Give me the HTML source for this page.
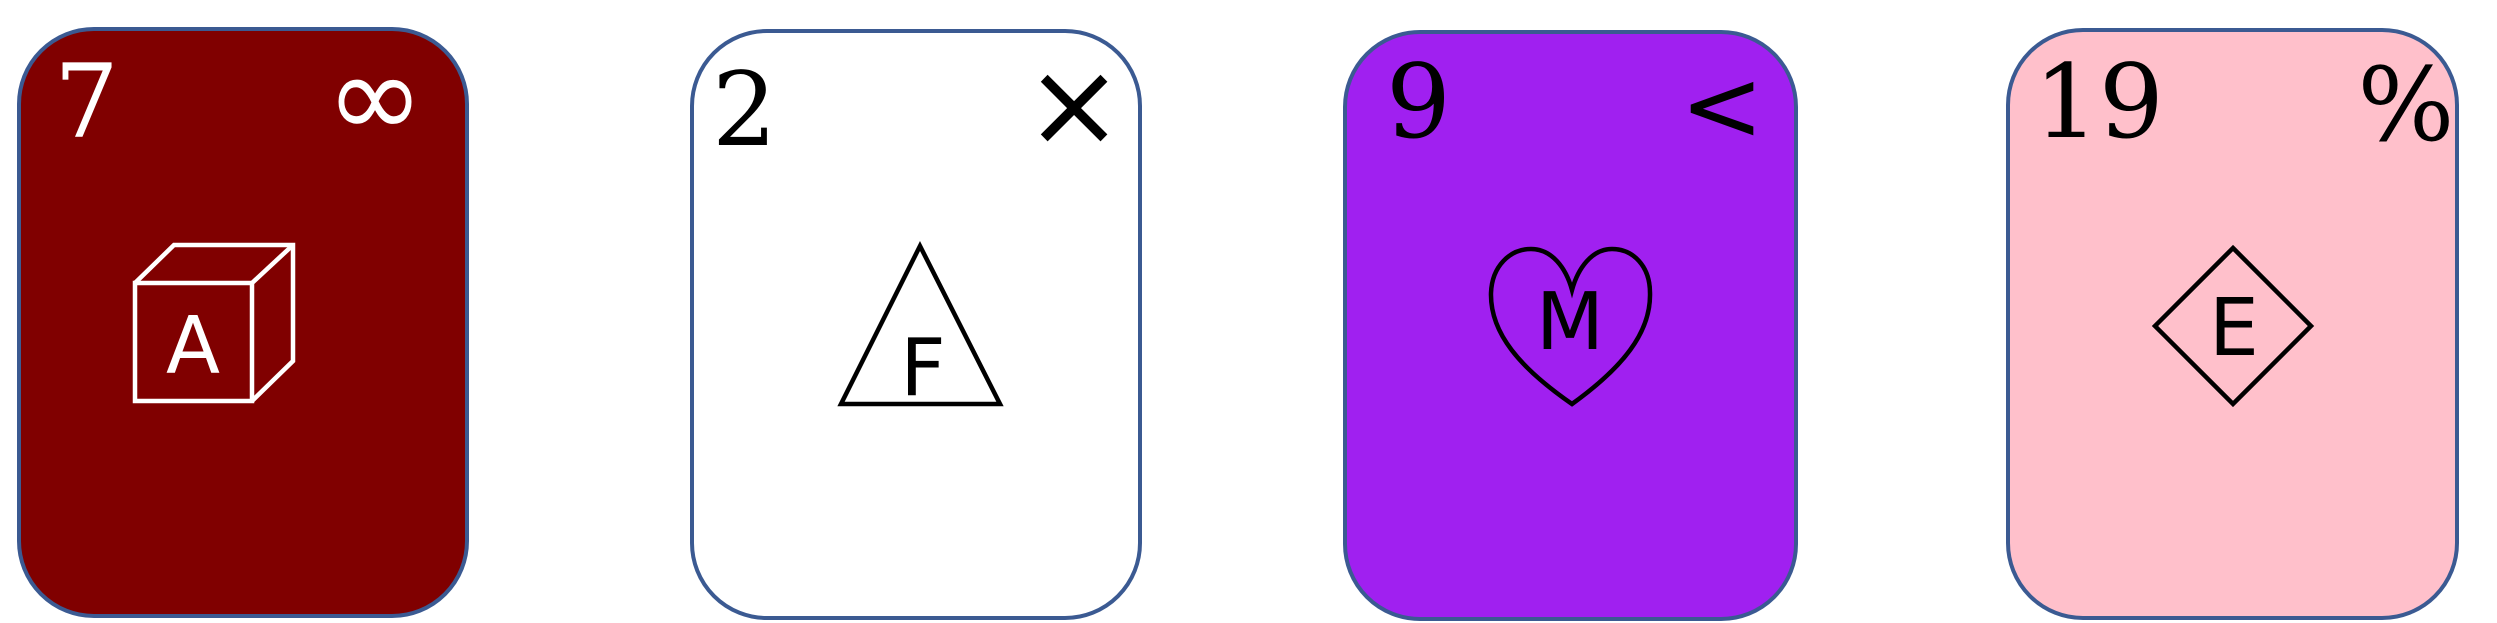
<!DOCTYPE html>
<html><head><meta charset="utf-8"><style>
html,body{margin:0;padding:0;background:#fff;width:2497px;height:623px;overflow:hidden}
svg{display:block}
.num{font-family:"DejaVu Serif","Liberation Serif",serif;font-size:102px}
.sym{font-family:"DejaVu Sans","Liberation Sans",sans-serif}
.lbl{font-family:"DejaVu Sans","Liberation Sans",sans-serif;font-size:79px}
</style></head><body>
<svg width="2497" height="623" viewBox="0 0 2497 623">
<g>
<rect x="19" y="29" width="448" height="587" rx="75" fill="#800000" stroke="#3b5a92" stroke-width="4"/>
<text x="54" y="137" class="num" fill="#fff">7</text>
<text x="375" y="137" class="sym" font-size="118" fill="#fff" text-anchor="middle">∞</text>
<g fill="none" stroke="#fff" stroke-width="4.5">
<rect x="135" y="283" width="117" height="118"/>
<polyline points="135,283 174,245 293,245 293,361 252,401"/>
<line x1="252" y1="283" x2="293" y2="245"/>
</g>
<text x="193" y="373" class="lbl" fill="#fff" text-anchor="middle">A</text>
</g>
<g>
<rect x="692" y="31" width="448" height="587" rx="75" fill="#fff" stroke="#3b5a92" stroke-width="4"/>
<text x="712" y="145" class="num" font-size="106" fill="#000">2</text>
<text x="1074" y="145" class="sym" font-size="118" fill="#000" text-anchor="middle">×</text>
<polygon points="920,246 1000,404 841,404" fill="none" stroke="#000" stroke-width="4.5"/>
<text x="923" y="395" class="lbl" fill="#000" text-anchor="middle">F</text>
</g>
<g>
<rect x="1345" y="32" width="451" height="587" rx="75" fill="#a020f0" stroke="#3b5a92" stroke-width="4"/>
<text x="1386" y="137" class="num" fill="#000">9</text>
<text x="1722" y="140" class="sym" font-size="100" fill="#000" text-anchor="middle">&lt;</text>
<path d="M1572,404 C1520,368 1490,333 1491,293 C1492,266 1510,249 1531,249 C1552,249 1566,268 1572,290 C1578,268 1592,249 1612,249 C1633,249 1650,266 1650,293 C1651,333 1622,368 1572,404 Z" fill="none" stroke="#000" stroke-width="4.5"/>
<text x="1570" y="349" class="lbl" fill="#000" text-anchor="middle">M</text>
</g>
<g>
<rect x="2008" y="30" width="449" height="588" rx="75" fill="#ffc0cb" stroke="#3b5a92" stroke-width="4"/>
<text x="2034" y="137" class="num" fill="#000">19</text>
<text x="2406" y="140" class="num" font-size="124" fill="#000" text-anchor="middle">%</text>
<polygon points="2233,248 2311,326 2233,404 2155,326" fill="none" stroke="#000" stroke-width="4.5"/>
<text x="2234" y="355" class="lbl" fill="#000" text-anchor="middle">E</text>
</g>
</svg>
</body></html>
